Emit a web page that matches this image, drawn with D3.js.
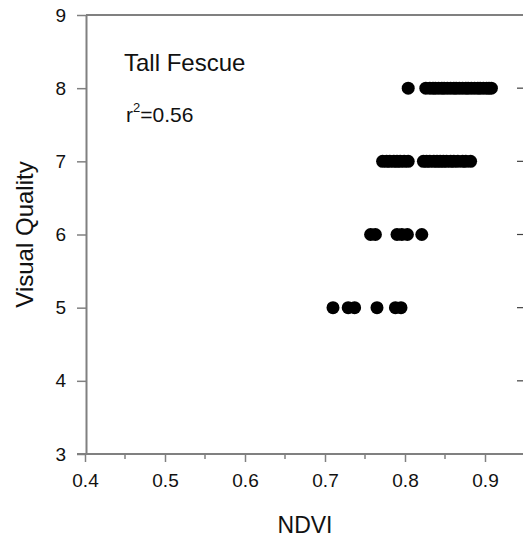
<!DOCTYPE html>
<html>
<head>
<meta charset="utf-8">
<script src="https://cdn.jsdelivr.net/npm/d3@7"></script>
<style>
  html, body { margin: 0; padding: 0; background: #fff; }
  svg { display: block; }
  text { font-family: Arial, "Liberation Sans", sans-serif; }
</style>
</head>
<body>
<svg id="chart" width="523" height="543"></svg>
<script>
// ---- data ----
const xTicks = [0.4, 0.5, 0.6, 0.7, 0.8, 0.9];
const xMinorTicks = [0.45, 0.55, 0.65, 0.75, 0.85];
const yTicks = [3, 4, 5, 6, 7, 8, 9];
const ndviQ5 = [0.710, 0.729, 0.737, 0.765, 0.788, 0.795];
const ndviQ6 = [0.757, 0.763, 0.790, 0.796, 0.803, 0.821];
const ndviQ7 = [0.772, 0.777, 0.781, 0.786, 0.790, 0.794, 0.799, 0.804,
                0.823, 0.827, 0.831, 0.836, 0.840, 0.844, 0.848, 0.852, 0.857,
                0.861, 0.866, 0.872, 0.876, 0.882];
const ndviQ8 = [0.804, 0.826, 0.831, 0.835, 0.838, 0.842, 0.846, 0.849, 0.853,
                0.857, 0.861, 0.864, 0.868, 0.872, 0.876, 0.879, 0.883, 0.887,
                0.891, 0.894, 0.898, 0.902, 0.905, 0.908];
const qualityLevels = [5, 6, 7, 8];
const title = "Tall Fescue";
const rSquared = "0.56";

const points = [];
[ndviQ5, ndviQ6, ndviQ7, ndviQ8].forEach((arr, i) => {
  arr.forEach(v => points.push({ x: v, y: qualityLevels[i] }));
});

// ---- layout ----
const svg = d3.select("#chart");
const mLeft = 86, mTop = 15, mBottom = 454;
const axisColor = "#808080";
const textColor = "#111";

const x = d3.scaleLinear().domain([0.4, 0.95]).range([mLeft - 1, mLeft - 1 + 0.55 * 800]);
const y = d3.scaleLinear().domain([3, 9]).range([mBottom, mTop]);

// top frame
svg.append("line")
  .attr("x1", mLeft).attr("x2", 523).attr("y1", mTop).attr("y2", mTop)
  .attr("stroke", axisColor).attr("stroke-width", 2);

// right-side inward ticks
svg.append("g").selectAll("line").data(yTicks.slice(1, -1)).join("line")
  .attr("x1", 517).attr("x2", 523)
  .attr("y1", d => y(d)).attr("y2", d => y(d))
  .attr("stroke", "#404040").attr("stroke-width", 1.2);

// left axis
const yAxis = svg.append("g")
  .attr("transform", `translate(${mLeft},0)`)
  .call(d3.axisLeft(y).tickValues(yTicks).tickSize(9).tickSizeOuter(0).tickPadding(11).tickFormat(d3.format("d")));
yAxis.select(".domain").attr("stroke", axisColor).attr("stroke-width", 2);
yAxis.selectAll(".tick line").attr("stroke", axisColor).attr("stroke-width", 1.5);
yAxis.selectAll(".tick text").attr("font-size", 19).attr("fill", textColor)
  .attr("font-family", "Arial, 'Liberation Sans', sans-serif");

// bottom axis
const xAxis = svg.append("g")
  .attr("transform", `translate(0,${mBottom})`)
  .call(d3.axisBottom(x).tickValues(xTicks).tickSize(8).tickSizeOuter(0).tickPadding(12).tickFormat(d3.format(".1f")));
xAxis.select(".domain").attr("stroke", axisColor).attr("stroke-width", 2)
  .attr("d", `M${mLeft - 9},0H${523}`);
xAxis.selectAll(".tick line").attr("stroke", axisColor).attr("stroke-width", 1.5);
xAxis.selectAll(".tick text").attr("font-size", 19).attr("fill", textColor)
  .attr("font-family", "Arial, 'Liberation Sans', sans-serif");

svg.append("g").selectAll("line").data(xMinorTicks).join("line")
  .attr("x1", d => x(d)).attr("x2", d => x(d))
  .attr("y1", mBottom).attr("y2", mBottom + 5)
  .attr("stroke", axisColor).attr("stroke-width", 1.5);

// points
svg.append("g").selectAll("circle").data(points).join("circle")
  .attr("cx", d => x(d.x)).attr("cy", d => y(d.y))
  .attr("r", 6.5).attr("fill", "#000");

// axis titles
svg.append("text")
  .attr("x", x(0.675)).attr("y", 533)
  .attr("text-anchor", "middle").attr("font-size", 23).attr("fill", textColor)
  .text("NDVI");
svg.append("text")
  .attr("transform", `translate(33,${y(6)}) rotate(-90)`)
  .attr("text-anchor", "middle").attr("font-size", 24).attr("fill", textColor)
  .text("Visual Quality");

// annotations
svg.append("text")
  .attr("x", 124).attr("y", 71)
  .attr("font-size", 24).attr("fill", textColor)
  .text(title);
const rt = svg.append("text")
  .attr("x", 126).attr("y", 122)
  .attr("font-size", 21).attr("fill", textColor);
rt.append("tspan").text("r");
rt.append("tspan").attr("font-size", 13).attr("dy", -10).text("2");
rt.append("tspan").attr("dy", 10).text("=" + rSquared);
</script>
</body>
</html>
